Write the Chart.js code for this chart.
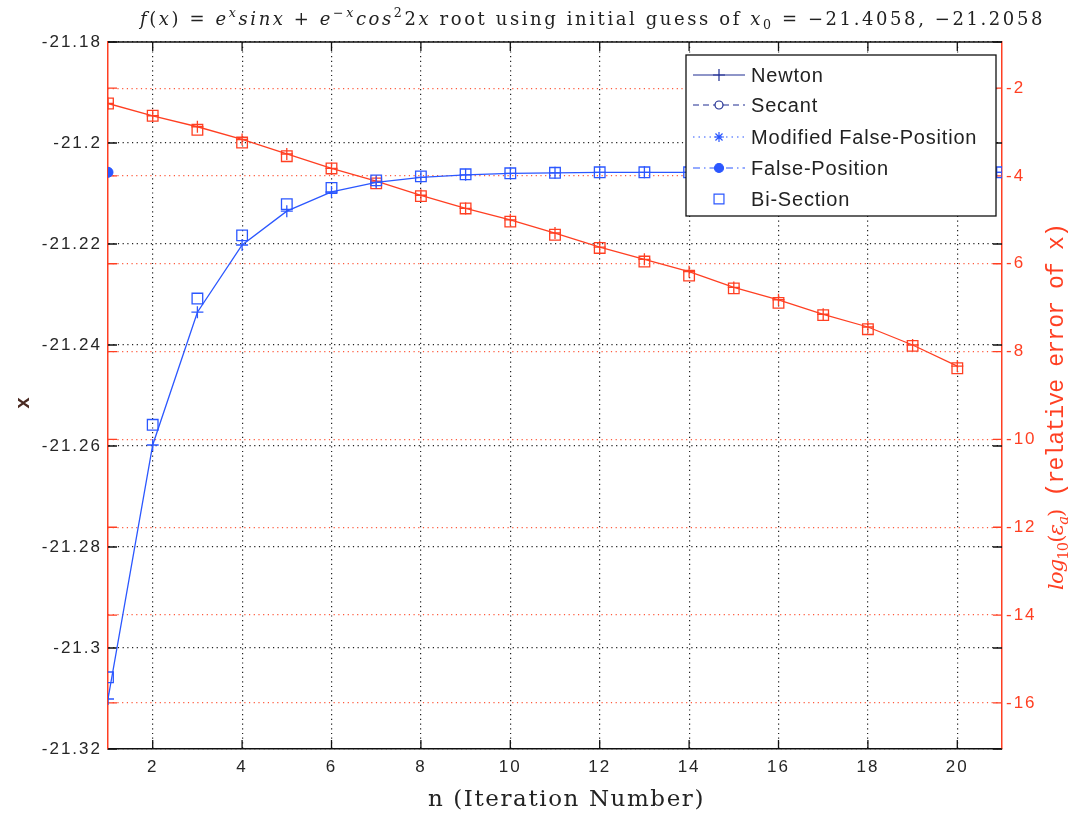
<!DOCTYPE html>
<html>
<head>
<meta charset="utf-8">
<title>Raiz de f(x)</title>
<script src="https://cdn.jsdelivr.net/npm/chart.js@4.4.1/dist/chart.umd.min.js"></script>
<style>
  html, body { margin: 0; padding: 0; background: #fff; }
</style>
</head>
<body>
<canvas id="grafico" width="1073" height="815"></canvas>
<script>
// numero de iteracion
const iteraciones = [1, 2, 3, 4, 5, 6, 7, 8, 9, 10, 11, 12, 13, 14, 15, 16, 17, 18, 19, 20, 21];

// valor de x en cada iteracion (eje izquierdo)
const newton = [-21.3101, -21.2598, -21.2335, -21.2202, -21.2135, -21.2097, -21.2078, -21.2068, -21.2063, -21.2060, -21.2059,
                -21.2058, -21.2058, -21.2058, -21.2058, -21.2058, -21.2058, -21.2058, -21.2058, -21.2058, -21.2058];
const secante = [-21.2058];
const falsaPosModificada = [-21.2058];
const falsaPosicion = [-21.2058];
const biseccion = [-21.3058, -21.2558, -21.2308, -21.2183, -21.2121, -21.2089, -21.2074, -21.2066, -21.2062, -21.2060, -21.2059,
                   -21.2058, -21.2058, -21.2058, -21.2058, -21.2058, -21.2058, -21.2058, -21.2058, -21.2058, -21.2058];

// log10 del error relativo (eje derecho)
const errorNewton = [-2.35, -2.63, -2.88, -3.17, -3.50, -3.83, -4.12, -4.44, -4.74, -5.00,
                     -5.30, -5.62, -5.90, -6.18, -6.54, -6.82, -7.15, -7.44, -7.85, -8.33];
const errorBiseccion = [-2.35, -2.63, -2.95, -3.24, -3.55, -3.83, -4.17, -4.46, -4.74, -5.04,
                        -5.34, -5.64, -5.95, -6.27, -6.56, -6.89, -7.17, -7.49, -7.87, -8.38];

const ticksX = [2, 4, 6, 8, 10, 12, 14, 16, 18, 20];
const ticksIzq = [-21.32, -21.3, -21.28, -21.26, -21.24, -21.22, -21.2, -21.18];
const ticksDer = [-16, -14, -12, -10, -8, -6, -4, -2];

const AZUL = '#2b57ff';
const AZUL_OSCURO = '#1f2d92';
const ROJO = '#ff3f22';

function puntos(valores) {
    return valores.map(function(v, i) { return { x: iteraciones[i], y: v }; });
}

function fijarTicks(lista) {
    return function(escala) { escala.ticks = lista.map(function(v) { return { value: v }; }); };
}

// texto con tramos en cursiva, romana o mono, con super/subindices
function fuente(tramo, tam) {
    var t = tramo.p ? tam * 0.7 : tam;
    if (tramo.e === 'i') return 'italic ' + t + 'px "DejaVu Serif"';
    if (tramo.e === 'm') return (t + 2) + 'px "Liberation Mono"';
    return t + 'px "DejaVu Serif"';
}

function dibujarTramos(ctx, tramos, x0, y, tam, ancho, color) {
    ctx.save();
    ctx.fillStyle = color;
    ctx.textBaseline = 'alphabetic';
    ctx.textAlign = 'left';
    ctx.letterSpacing = '0px';
    var natural = 0, letras = 0;
    tramos.forEach(function(tr) {
        ctx.font = fuente(tr, tam);
        natural += ctx.measureText(tr.t).width;
        letras += tr.t.length;
    });
    var extra = (ancho - natural) / letras;
    var x = x0;
    tramos.forEach(function(tr) {
        ctx.font = fuente(tr, tam);
        ctx.letterSpacing = '0px';
        var w = ctx.measureText(tr.t).width;
        ctx.letterSpacing = extra + 'px';
        var dy = tr.p === 'sup' ? -tam * 0.42 : (tr.p === 'sub' ? tam * 0.22 : 0);
        ctx.fillText(tr.t, x, y + dy);
        x += w + extra * tr.t.length;
    });
    ctx.restore();
}

const tituloTramos = [
    { t: 'f', e: 'i' }, { t: '(', e: 'r' }, { t: 'x', e: 'i' }, { t: ') = ', e: 'r' },
    { t: 'e', e: 'i' }, { t: 'x', e: 'i', p: 'sup' }, { t: 'sinx', e: 'i' }, { t: ' + ', e: 'r' },
    { t: 'e', e: 'i' }, { t: '\u2212x', e: 'i', p: 'sup' }, { t: 'cos', e: 'i' }, { t: '2', e: 'r', p: 'sup' },
    { t: '2', e: 'r' }, { t: 'x', e: 'i' }, { t: ' root using initial guess of ', e: 'r' },
    { t: 'x', e: 'i' }, { t: '0', e: 'r', p: 'sub' }, { t: ' = \u221221.4058, \u221221.2058', e: 'r' }
];

const etiquetaDerTramos = [
    { t: 'log', e: 'i' }, { t: '10', e: 'r', p: 'sub' }, { t: '(', e: 'r' }, { t: '\u03b5', e: 'i' },
    { t: 'a', e: 'i', p: 'sub' }, { t: ')', e: 'r' }, { t: ' (relative error of x)', e: 'm' }
];

const entradasLeyenda = [
    { texto: 'Newton', color: AZUL_OSCURO, dash: [], estilo: 'cross', radio: 6, linea: true },
    { texto: 'Secant', color: AZUL_OSCURO, dash: [6, 4], estilo: 'circle', radio: 4, linea: true },
    { texto: 'Modified False-Position', color: AZUL, dash: [1.5, 4], estilo: 'star', radio: 5, linea: true },
    { texto: 'False-Position', color: AZUL, dash: [7, 4, 1.5, 4], estilo: 'circle', radio: 4.5, linea: true, relleno: true },
    { texto: 'Bi-Section', color: AZUL, dash: [], estilo: 'rect', radio: 7, linea: false }
];

// letras espaciadas en las marcas de los ejes
const espaciado = {
    id: 'espaciado',
    beforeDraw: function(chart) { chart.ctx.letterSpacing = '2px'; },
    beforeDatasetsDraw: function(chart) { chart.ctx.letterSpacing = '0px'; }
};

// marcas hacia dentro en los cuatro lados y borde superior
const marcasInternas = {
    id: 'marcasInternas',
    beforeDatasetsDraw: function(chart) {
        var ctx = chart.ctx, a = chart.chartArea, L = 9;
        var sx = chart.scales.x, sy = chart.scales.y, sy2 = chart.scales.y2;
        ctx.save();
        ctx.lineWidth = 1.3;
        ctx.strokeStyle = '#111';
        ctx.beginPath();
        ticksX.forEach(function(v) {
            var px = sx.getPixelForValue(v);
            ctx.moveTo(px, a.bottom); ctx.lineTo(px, a.bottom - L);
            ctx.moveTo(px, a.top); ctx.lineTo(px, a.top + L);
        });
        ticksIzq.forEach(function(v) {
            var py = sy.getPixelForValue(v);
            ctx.moveTo(a.left, py); ctx.lineTo(a.left + L, py);
            ctx.moveTo(a.right, py); ctx.lineTo(a.right - L, py);
        });
        ctx.stroke();
        ctx.strokeStyle = ROJO;
        ctx.beginPath();
        ticksDer.forEach(function(v) {
            var py = sy2.getPixelForValue(v);
            ctx.moveTo(a.left, py); ctx.lineTo(a.left + L, py);
            ctx.moveTo(a.right, py); ctx.lineTo(a.right - L, py);
        });
        ctx.stroke();
        ctx.strokeStyle = '#111';
        ctx.lineWidth = 1.5;
        ctx.beginPath();
        ctx.moveTo(a.left, a.top); ctx.lineTo(a.right, a.top);
        ctx.stroke();
        ctx.restore();
    }
};

const textos = {
    id: 'textos',
    afterDraw: function(chart) {
        var ctx = chart.ctx;
        ctx.letterSpacing = '0px';
        // titulo
        dibujarTramos(ctx, tituloTramos, 140, 25, 18, 905, '#222');
        // eje x
        dibujarTramos(ctx, [{ t: 'n (Iteration Number)', e: 'r' }], 428, 806, 23, 277, '#222');
        // eje y izquierdo
        ctx.save();
        ctx.translate(24, 403);
        ctx.rotate(-Math.PI / 2);
        ctx.font = 'bold 20px "Liberation Mono"';
        ctx.fillStyle = '#4a2a22';
        ctx.textAlign = 'center';
        ctx.textBaseline = 'middle';
        ctx.fillText('x', 0, 0);
        ctx.restore();
        // eje y derecho
        ctx.save();
        ctx.translate(1063, 407);
        ctx.rotate(-Math.PI / 2);
        dibujarTramos(ctx, etiquetaDerTramos, -183, 0, 21, 366, ROJO);
        ctx.restore();

        // leyenda
        ctx.save();
        ctx.fillStyle = '#fff';
        ctx.fillRect(686, 55, 310, 161);
        ctx.strokeStyle = '#111';
        ctx.lineWidth = 1.3;
        ctx.strokeRect(686, 55, 310, 161);
        var filas = [75, 105, 137, 168, 199];
        entradasLeyenda.forEach(function(en, i) {
            var y = filas[i];
            ctx.strokeStyle = en.color;
            ctx.lineWidth = 1.2;
            if (en.linea) {
                ctx.setLineDash(en.dash);
                ctx.beginPath();
                ctx.moveTo(693, y); ctx.lineTo(745, y);
                ctx.stroke();
            }
            ctx.setLineDash([]);
            ctx.fillStyle = en.relleno ? en.color : '#fff';
            Chart.helpers.drawPoint(ctx, { pointStyle: en.estilo, radius: en.radio, borderWidth: 1.3, rotation: 0 }, 719, y);
            ctx.fillStyle = '#222';
            ctx.font = '20px "Liberation Sans"';
            ctx.letterSpacing = '0.8px';
            ctx.textAlign = 'left';
            ctx.textBaseline = 'middle';
            ctx.fillText(en.texto, 751, y + 1);
            ctx.letterSpacing = '0px';
        });
        ctx.restore();
    }
};

const fuenteTicks = { family: 'Liberation Sans', size: 17 };

// el primer conjunto de datos queda encima al dibujar
new Chart(document.getElementById('grafico'), {
    type: 'line',
    data: {
        datasets: [
            { label: 'False-Position', yAxisID: 'y', data: puntos(falsaPosicion), borderColor: AZUL,
              pointStyle: 'circle', pointRadius: 5, pointBorderWidth: 1, pointBorderColor: AZUL, pointBackgroundColor: AZUL },
            { label: 'Modified False-Position', yAxisID: 'y', data: puntos(falsaPosModificada), borderColor: AZUL,
              pointStyle: 'star', pointRadius: 5, pointBorderWidth: 1.2, pointBorderColor: AZUL },
            { label: 'Secant', yAxisID: 'y', data: puntos(secante), borderColor: AZUL, borderDash: [6, 4],
              pointStyle: 'circle', pointRadius: 4, pointBorderWidth: 1.2, pointBorderColor: AZUL, pointBackgroundColor: '#fff' },
            { label: 'Newton', yAxisID: 'y', data: puntos(newton), borderColor: AZUL, borderWidth: 1.3,
              pointStyle: 'cross', pointRadius: 6, pointBorderWidth: 1.3, pointBorderColor: AZUL },
            { label: 'Bi-Section', yAxisID: 'y', data: puntos(biseccion), showLine: false,
              pointStyle: 'rect', pointRadius: 7.5, pointBorderWidth: 1.3, pointBorderColor: AZUL, pointBackgroundColor: 'rgba(0,0,0,0)' },
            { label: 'Newton error', yAxisID: 'y2', data: puntos(errorNewton), borderColor: ROJO, borderWidth: 1.3,
              pointStyle: 'cross', pointRadius: 6, pointBorderWidth: 1.3, pointBorderColor: ROJO },
            { label: 'Bi-Section error', yAxisID: 'y2', data: puntos(errorBiseccion), showLine: false,
              pointStyle: 'rect', pointRadius: 7.5, pointBorderWidth: 1.3, pointBorderColor: ROJO, pointBackgroundColor: 'rgba(0,0,0,0)' }
        ]
    },
    options: {
        responsive: false,
        animation: false,
        layout: { padding: { top: 42, left: 0, right: 0, bottom: 0 } },
        elements: { line: { tension: 0 } },
        plugins: { legend: { display: false }, tooltip: { enabled: false } },
        scales: {
            x: {
                type: 'linear', min: 1, max: 21,
                afterBuildTicks: fijarTicks(ticksX),
                afterFit: function(s) { s.height = 66; },
                grid: { color: '#222', lineWidth: 1.2, drawTicks: false },
                border: { color: '#111', width: 1.5, dash: [1.2, 3.5] },
                ticks: { padding: 8, font: fuenteTicks, color: '#262626', maxRotation: 0, autoSkip: false }
            },
            y: {
                type: 'linear', position: 'left', min: -21.32, max: -21.18,
                afterBuildTicks: fijarTicks(ticksIzq),
                afterFit: function(s) { s.width = 108; },
                grid: { color: '#222', lineWidth: 1.2, drawTicks: false },
                border: { color: ROJO, width: 1.5, dash: [1.2, 3.5] },
                ticks: { padding: 6, font: fuenteTicks, color: '#262626', autoSkip: false,
                         callback: function(v) { return String(Number(v.toFixed(2))); } }
            },
            y2: {
                type: 'linear', position: 'right', min: -17.05, max: -0.95,
                afterBuildTicks: fijarTicks(ticksDer),
                afterFit: function(s) { s.width = 71; },
                grid: { color: '#ff5a3c', lineWidth: 1.2, drawTicks: false },
                border: { color: ROJO, width: 1.5, dash: [1.2, 3.5] },
                ticks: { padding: 4, font: fuenteTicks, color: ROJO, autoSkip: false,
                         callback: function(v) { return String(v); } }
            }
        }
    },
    plugins: [espaciado, marcasInternas, textos]
});
</script>
</body>
</html>
